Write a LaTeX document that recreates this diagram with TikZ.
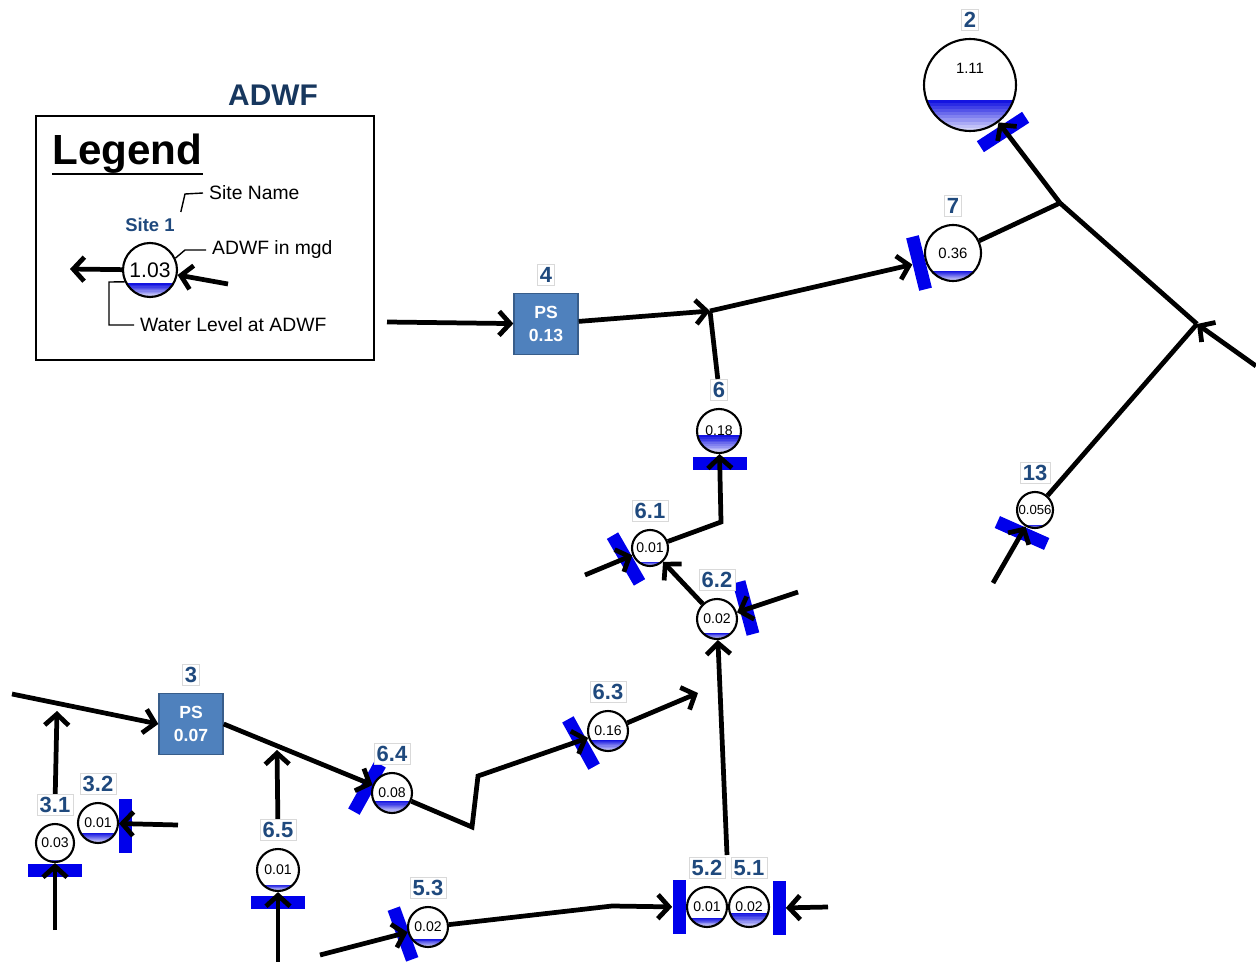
\documentclass[tikz,border=0pt]{standalone}
\usepackage{fontspec}
\setmainfont{Liberation Sans}
\usetikzlibrary{arrows.meta,calc}

\definecolor{tagblue}{RGB}{31,73,125}
\definecolor{headblue}{RGB}{23,55,94}
\definecolor{psblue}{RGB}{79,129,189}
\definecolor{psedge}{RGB}{56,93,138}
\definecolor{gateblue}{RGB}{0,0,235}
\definecolor{wtop}{RGB}{20,20,225}
\definecolor{wlow}{RGB}{235,235,253}

\tikzset{
  wlev/.store in=\wlev, wlev=0.2,
  site/.style={circle, draw, line width=1.2pt, fill=white, inner sep=0pt,
    minimum size=#1, font=\fontsize{8}{9}\selectfont,
    path picture={
      % water: dark at the surface, pale at the bottom
      \foreach \k in {10,...,1}{
        \pgfmathsetmacro\p{int(10*\k)}
        \fill[wtop!\p!wlow] (path picture bounding box.south west) rectangle
          ($(path picture bounding box.south east)!\k*\wlev/10!(path picture bounding box.north east)$);}}},
  tag/.style={font=\bfseries\fontsize{12.5}{14}\selectfont, text=tagblue,
    fill=white, draw=black!15, line width=0.4pt, inner sep=1.5pt},
  gate/.style={rectangle, fill=gateblue, inner sep=0pt,
    minimum width=1.08cm, minimum height=0.26cm},
  ps/.style={rectangle, fill=psblue, draw=psedge, line width=0.8pt,
    minimum width=1.28cm, minimum height=1.22cm, text=white, align=center,
    font=\bfseries\fontsize{10}{13}\selectfont},
  flow/.style={line width=2.7pt, -{Straight Barb[length=2.2mm,width=4.8mm]}},
  pipe/.style={line width=2.7pt},
  lead/.style={line width=0.8pt},
  note/.style={anchor=west, font=\fontsize{11}{12}\selectfont}
}

\begin{document}
\begin{tikzpicture}[x=0.02cm, y=-0.02cm, label distance=0.15cm]
    \useasboundingbox (0,0) rectangle (1256,962);

    % legend
    \node[font=\bfseries\fontsize{17}{20}\selectfont, text=headblue] (title) at (273,95) {ADWF};
    \draw[line width=1.3pt] (36,116) rectangle (374,360);
    \node[anchor=base west, inner sep=0pt, font=\bfseries\fontsize{24}{28}\selectfont] (legend) at (52,165) {Legend};
    \draw[line width=1.6pt] ($(legend.base west)+(0,9)$) -- ($(legend.base east)+(0,9)$);
    \node[site=1.08cm, wlev=0.25, font=\fontsize{12}{13}\selectfont] (lsite) at (150,270) {1.03};
    \node[font=\bfseries\fontsize{10.5}{12}\selectfont, text=tagblue] (lname) at (150,225) {Site 1};
    \node[note] (tname) at (203,193) {Site Name};
    \node[note] (tflow) at (206,250) {ADWF in mgd};
    \node[note] (tlevel) at (134,325) {Water Level at ADWF};
    \coordinate (lout) at (70,269);
    \coordinate (lin) at (228,284);
    \draw[flow] (lsite) -- (lout);
    \draw[flow] (lin) -- (lsite);
    \draw[lead] (lname.north east) -- (185,194) -- (tname.west);
    \draw[lead] (lsite.25) -- (185,250) -- (tflow.west);
    \draw[lead] (lsite.205) -- (109,282) -- (109,325) -- (tlevel.west);

    % gates
    \node[gate, rotate=33] (b2) at (1003,132) {};
    \node[gate, rotate=-76] (b7) at (919,263) {};
    \node[gate] (b6) at (720,463) {};
    \node[gate, rotate=-60] (b61) at (626,559) {};
    \node[gate, rotate=-75] (b62) at (746,608) {};
    \node[gate, rotate=-24] (b13) at (1022,533) {};
    \node[gate] (b31) at (55,870) {};
    \node[gate, rotate=90] (b32) at (125,826) {};
    \node[gate] (b65) at (278,902) {};
    \node[gate, rotate=61] (b64) at (367,788) {};
    \node[gate, rotate=-61] (b63) at (581,743) {};
    \node[gate, rotate=-70] (b53) at (403,934) {};
    \node[gate, rotate=90] (b52) at (679,907) {};
    \node[gate, rotate=90] (b51) at (779,908) {};

    % sites
    \node[site=1.84cm, wlev=0.34, font=\fontsize{8.5}{9}\selectfont, text depth=0.68cm, label={[tag]above:2}] (n2) at (970,85) {1.11};
    \node[site=1.12cm, wlev=0.18, font=\fontsize{8.5}{9}\selectfont, label={[tag]above:7}] (n7) at (953,253) {0.36};
    \node[site=0.88cm, wlev=0.4, label={[tag,name=l6]above:6}] (n6) at (719,431) {0.18};
    \node[site=0.72cm, wlev=0.12, label={[tag]above:6.1}] (n61) at (650,548) {0.01};
    \node[site=0.8cm, wlev=0.15, label={[tag]above:6.2}] (n62) at (717,619) {0.02};
    \node[site=0.72cm, wlev=0.08, font=\fontsize{7.5}{8}\selectfont, label={[tag]above:13}] (n13) at (1035,510) {0.056};
    \node[site=0.76cm, wlev=0.06, label={[tag,name=l31]above:3.1}] (n31) at (55,843) {0.03};
    \node[site=0.8cm, wlev=0.25, label={[tag]above:3.2}] (n32) at (98,823) {0.01};
    \node[site=0.84cm, wlev=0.15, label={[tag,name=l65]above:6.5}] (n65) at (278,870) {0.01};
    \node[site=0.8cm, wlev=0.3, label={[tag]above:6.4}] (n64) at (392,793) {0.08};
    \node[site=0.8cm, wlev=0.28, label={[tag]above:6.3}] (n63) at (608,731) {0.16};
    \node[site=0.8cm, wlev=0.2, label={[tag]above:5.3}] (n53) at (428,927) {0.02};
    \node[site=0.8cm, wlev=0.22, label={[tag]above:5.2}] (n52) at (707,907) {0.01};
    \node[site=0.8cm, wlev=0.35, label={[tag]above:5.1}] (n51) at (749,907) {0.02};

    % pump stations
    \node[ps, label={[tag]above:4}] (ps4) at (546,324) {PS\\0.13};
    \node[ps, label={[tag]above:3}] (ps3) at (191,724) {PS\\0.07};

    % junctions and loose ends
    \coordinate (in4) at (387,322);
    \coordinate (j1) at (710,311);
    \coordinate (j2) at (1060,203);
    \coordinate (j3) at (1197,324);
    \coordinate (e1) at (1256,366);
    \coordinate (s13) at (993,583);
    \coordinate (j4) at (721,522);
    \coordinate (s61) at (585,575);
    \coordinate (s62) at (798,592);
    \coordinate (j5) at (727,855);
    \coordinate (w3) at (12,694);
    \coordinate (j6) at (57,711);
    \coordinate (s31) at (55,930);
    \coordinate (e32) at (178,825);
    \coordinate (j7) at (277,750);
    \coordinate (s65) at (278,962);
    \coordinate (k1) at (472,827);
    \coordinate (k2) at (478,776);
    \coordinate (j8) at (698,693);
    \coordinate (s53) at (320,955);
    \coordinate (k3) at (612,906);
    \coordinate (e51) at (828,907);

    % flows
    \draw[flow] (in4) -- (ps4);
    \draw[flow] (ps4) -- (j1);
    \draw[flow] (j1) -- (b7);
    \draw[pipe] (l6) -- (j1);
    \draw[pipe] (n7) -- (j2);
    \draw[flow] (j2) -- (n2);
    \draw[pipe] (j3) -- (j2);
    \draw[flow] (e1) -- (j3);
    \draw[pipe] (n13) -- (j3);
    \draw[flow] (s13) -- (n13);
    \draw[flow] (n61) -- (j4) -- (n6);
    \draw[flow] (s61) -- (n61);
    \draw[flow] (n62) -- (n61);
    \draw[flow] (s62) -- (n62);
    \draw[flow] (j5) -- (n62);
    \draw[flow] (w3) -- (ps3.west);
    \draw[flow] (l31) -- (j6);
    \draw[flow] (s31) -- (n31);
    \draw[flow] (e32) -- (n32);
    \draw[flow] (ps3.east) -- (n64);
    \draw[flow] (l65) -- (j7);
    \draw[flow] (s65) -- (n65);
    \draw[flow] (n64) -- (k1) -- (k2) -- (n63);
    \draw[flow] (n63) -- (j8);
    \draw[flow] (s53) -- (n53);
    \draw[flow] (n53) -- (k3) -- (b52);
    \draw[flow] (e51) -- (b51);
\end{tikzpicture}
\end{document}
